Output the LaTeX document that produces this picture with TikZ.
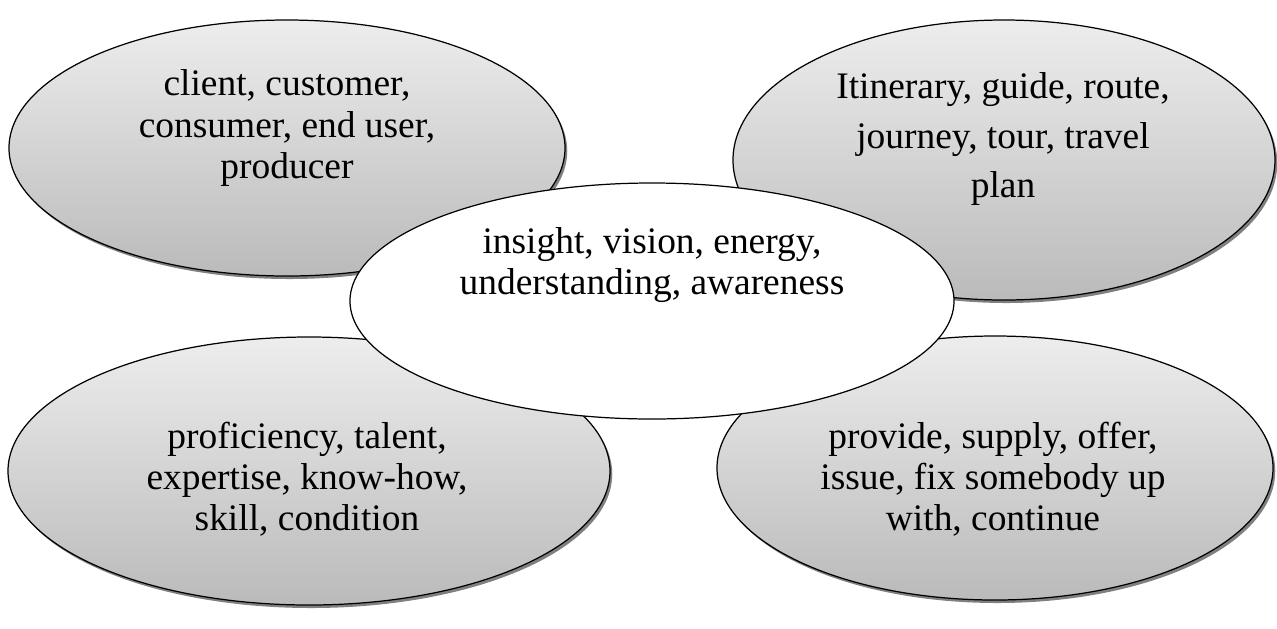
\documentclass[tikz,border=0pt]{standalone}
\usepackage{fontspec}
\setmainfont{Liberation Serif}
\usetikzlibrary{shapes.geometric,shadows}

\begin{document}
\begin{tikzpicture}[x=0.2mm,y=-0.2mm]
		\tikzstyle{bubble}=[ellipse,draw=black,line width=0.7pt,inner sep=0pt,
		  top color=black!7,bottom color=black!27,
		  drop shadow={shadow xshift=0.45mm,shadow yshift=-0.6mm,fill=black!50,opacity=1}]
		\tikzstyle{hub}=[ellipse,draw=black,line width=0.7pt,inner sep=0pt,fill=white]
		\tikzstyle{words}=[align=center,font=\fontsize{21.3pt}{23.4pt}\selectfont]

		\useasboundingbox (0,0) rectangle (1277,628);

		 % outer bubbles
		 \node [bubble,minimum width=111.2mm,minimum height=51.2mm] (client) at (287,148) {};
		 \node [bubble,minimum width=108.4mm,minimum height=56mm] (route) at (1004,160) {};
		 \node [bubble,minimum width=120.4mm,minimum height=53.6mm] (skill) at (309,471) {};
		 \node [bubble,minimum width=111.2mm,minimum height=52.8mm] (supply) at (995,468) {};

		 % middle bubble on top
		 \node [hub,minimum width=120.8mm,minimum height=47.2mm] (insight) at (652,301) {};

		 \node [words] (clientText) at (287,128) {client, customer,\\consumer, end user,\\producer};
		 \node [words,font=\fontsize{21.3pt}{28pt}\selectfont] (routeText) at (1003,139) {Itinerary, guide, route,\\journey, tour, travel\\plan};
		 \node [words] (insightText) at (652,265) {insight, vision, energy,\\understanding, awareness};
		 \node [words] (skillText) at (307,479) {proficiency, talent,\\expertise, know-how,\\skill, condition};
		 \node [words] (supplyText) at (993,479) {provide, supply, offer,\\issue, fix somebody up\\with, continue};

	\end{tikzpicture}
\end{document}
